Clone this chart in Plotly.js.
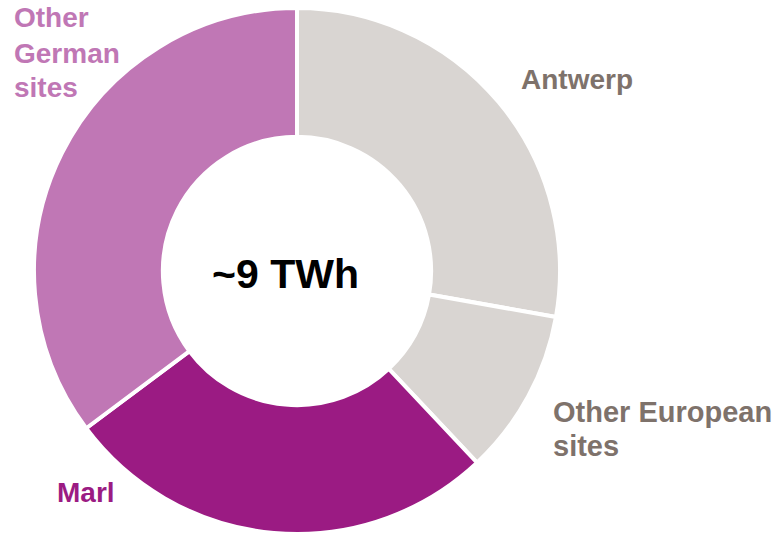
<!DOCTYPE html>
<html>
<head>
<meta charset="utf-8">
<script src="https://cdn.plot.ly/plotly-3.0.1.min.js"></script>
<style>html,body{margin:0;padding:0;background:#fff;}#chart{width:777px;height:534px;}</style>
</head>
<body>
<div id="chart"></div>
<script>
const categories = ["Antwerp", "Other European sites", "Marl", "Other German sites"];
const shares = [27.8, 10.2, 26.8, 35.2];
const sliceColors = ["#D9D5D2", "#D9D5D2", "#9B1B83", "#C077B5"];
const labelLines = [["Antwerp"], ["Other European", "sites"], ["Marl"], ["Other", "German", "sites"]];
const labelColors = ["#7E726B", "#7E726B", "#9B1B83", "#C077B5"];
const centerText = "~9 TWh";

const W = 777, H = 534;
const labelX = [519, 551, 55, 12];
const labelTopY = [79, 412, 492, 18];
const lineStep = [34, 34, 34, 35];
const labelSize = [28, 29, 28, 28];

const trace = {
  type: "pie",
  labels: categories,
  values: shares,
  sort: false,
  direction: "clockwise",
  rotation: 0,
  hole: 0.51,
  textinfo: "none",
  hoverinfo: "label+percent",
  marker: {colors: sliceColors, line: {color: "#ffffff", width: 4}},
  domain: {x: [31 / W, 563 / W], y: [0, 1 - 8 / H]},
  showlegend: false
};

const annotations = [];
categories.forEach((c, i) => {
  labelLines[i].forEach((ln, j) => {
    annotations.push({
      xref: "paper", yref: "paper",
      x: labelX[i] / W, y: 1 - (labelTopY[i] + j * lineStep[i]) / H,
      xanchor: "left", yanchor: "middle", align: "left",
      showarrow: false,
      text: "<b>" + ln + "</b>",
      font: {family: "Liberation Sans, Arial, sans-serif", size: labelSize[i], color: labelColors[i]}
    });
  });
});
annotations.push({
  xref: "paper", yref: "paper",
  x: 285 / W, y: 1 - 274 / H,
  xanchor: "center", yanchor: "middle",
  showarrow: false,
  text: "<b>" + centerText + "</b>",
  font: {family: "Liberation Sans, Arial, sans-serif", size: 41, color: "#000000"}
});

Plotly.newPlot("chart", [trace], {
  width: W, height: H,
  margin: {l: 0, r: 0, t: 0, b: 0},
  paper_bgcolor: "#ffffff",
  annotations: annotations
}, {displayModeBar: false, staticPlot: true});
</script>
</body>
</html>
